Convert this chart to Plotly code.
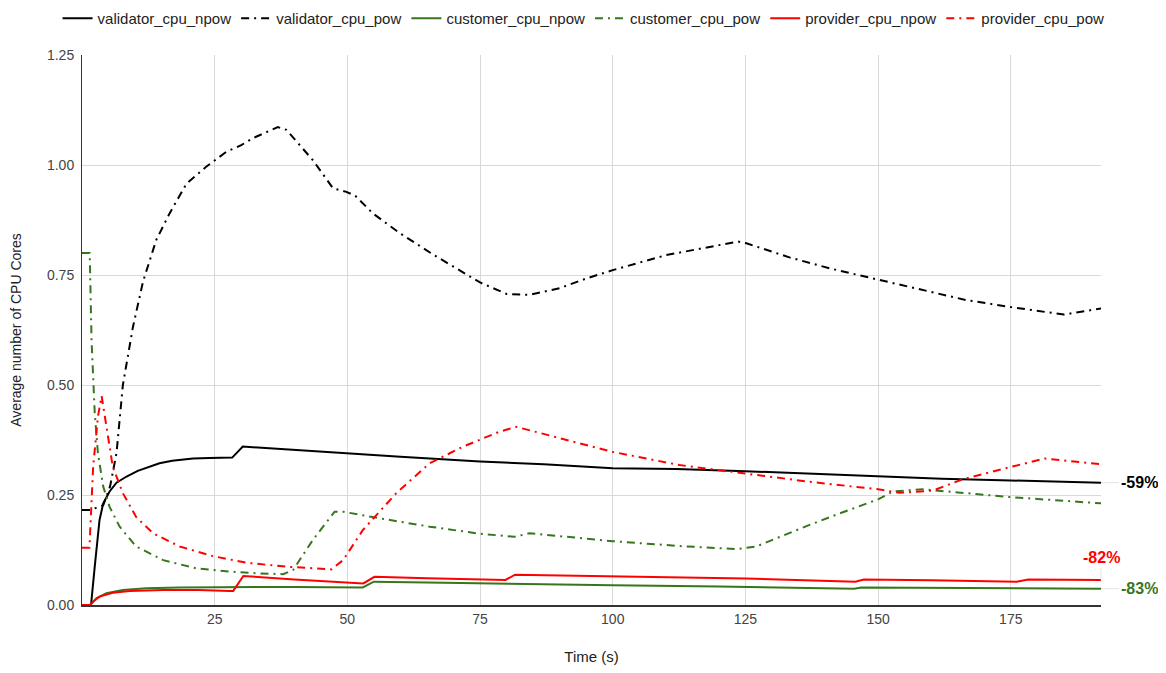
import plotly.graph_objects as go

# ---- data ----
validator_npow_x = [0, 1.7, 2.4, 3.3, 4.0, 5.2, 6.5, 8.4, 10.5, 12.5, 14.6, 17, 20.9, 24, 28.3, 30.3,
                    40, 50, 60, 75, 87, 100, 112, 125, 137, 150, 162, 175, 192]
validator_npow_y = [0, 0, 0.087, 0.193, 0.231, 0.258, 0.278, 0.292, 0.305, 0.314, 0.322, 0.328, 0.333,
                    0.334, 0.335, 0.36, 0.352, 0.345, 0.337, 0.326, 0.320, 0.311, 0.309, 0.304, 0.298,
                    0.292, 0.287, 0.283, 0.278]

validator_pow_x = [0, 1.6, 4.0, 5.3, 6.5, 7.7, 9.6, 11.5, 14, 16.5, 19.7, 23.4, 27.2, 30, 32.2, 36.9,
                   38.5, 43.5, 47.3, 49.8, 51.5, 54.8, 59.9, 66.1, 75, 80, 84.3, 90, 95, 100, 110,
                   118.9, 123.6, 125.2, 133.3, 140.9, 150, 158.4, 166.6, 175.1, 183.6, 185, 192]
validator_pow_y = [0.216, 0.216, 0.227, 0.27, 0.345, 0.50, 0.632, 0.735, 0.83, 0.89, 0.958, 0.996,
                   1.03, 1.045, 1.061, 1.086, 1.08, 1.011, 0.947, 0.939, 0.93, 0.89, 0.845, 0.797,
                   0.733, 0.707, 0.705, 0.72, 0.742, 0.761, 0.795, 0.816, 0.826, 0.822, 0.79, 0.765,
                   0.739, 0.716, 0.693, 0.677, 0.661, 0.66, 0.674]

customer_npow_x = [0, 1.6, 2.7, 4.6, 7.7, 12.1, 18.4, 28, 40, 52.9, 55.0, 65, 78.7, 100, 120, 137,
                   145.5, 146.8, 160, 175, 192]
customer_npow_y = [0, 0, 0.015, 0.027, 0.034, 0.038, 0.040, 0.041, 0.041, 0.040, 0.053, 0.051, 0.048,
                   0.045, 0.042, 0.039, 0.037, 0.040, 0.039, 0.038, 0.037]

customer_pow_x = [0, 1.45, 1.8, 2.1, 2.4, 3.0, 4.0, 5.2, 7.1, 10.2, 15.3, 21.6, 27.8, 33, 37.9, 39.8,
                  43.5, 47.6, 49.2, 56.1, 65.5, 75, 81.5, 84.3, 100, 112.6, 123.3, 127, 131.4, 137.1,
                  142.7, 150, 152.8, 158.4, 175.1, 192]
customer_pow_y = [0.8, 0.8, 0.602, 0.496, 0.436, 0.345, 0.269, 0.223, 0.178, 0.133, 0.102, 0.083,
                  0.076, 0.072, 0.07, 0.08, 0.148, 0.212, 0.212, 0.197, 0.178, 0.162, 0.155, 0.163,
                  0.145, 0.134, 0.127, 0.133, 0.155, 0.182, 0.208, 0.24, 0.258, 0.263, 0.245, 0.231]

provider_npow_x = [0, 1.5, 2.1, 3.3, 5.8, 9, 15.3, 22, 27.8, 28.5, 30.4, 40, 53, 55.1, 65, 79.8, 81.6,
                   100, 125, 145.7, 147.3, 160, 176.1, 178.3, 192]
provider_npow_y = [0, 0, 0.008, 0.019, 0.028, 0.032, 0.034, 0.034, 0.032, 0.032, 0.066, 0.058, 0.049,
                   0.064, 0.061, 0.057, 0.069, 0.065, 0.060, 0.053, 0.058, 0.056, 0.053, 0.058, 0.057]

provider_pow_x = [0, 1.4, 2.1, 3.0, 3.7, 4.6, 5.8, 7.7, 10.2, 13.4, 18.4, 24.7, 31, 38.5, 47, 49.2,
                  52.9, 59.2, 65.5, 71.8, 78.7, 81.8, 90, 100, 112.6, 125, 137.1, 150, 154, 160.3,
                  166, 175.1, 181.4, 192]
provider_pow_y = [0.13, 0.13, 0.314, 0.428, 0.475, 0.405, 0.314, 0.254, 0.2, 0.163, 0.133, 0.111,
                  0.096, 0.087, 0.081, 0.102, 0.17, 0.254, 0.322, 0.36, 0.394, 0.405, 0.38, 0.348,
                  0.318, 0.299, 0.28, 0.263, 0.255, 0.26, 0.286, 0.314, 0.333, 0.32]

x_ticks = [25, 50, 75, 100, 125, 150, 175]
y_ticks = [0, 0.25, 0.5, 0.75, 1.0, 1.25]
reduction_labels = ["-59%", "-83%", "-82%"]

BLACK = "#000000"
GREEN = "#38761d"
RED = "#ff0000"
DASHDOT = "8px,5px,2px,5px"

series = [
    ("validator_cpu_npow", validator_npow_x, validator_npow_y, BLACK, "solid"),
    ("validator_cpu_pow", validator_pow_x, validator_pow_y, BLACK, DASHDOT),
    ("customer_cpu_npow", customer_npow_x, customer_npow_y, GREEN, "solid"),
    ("customer_cpu_pow", customer_pow_x, customer_pow_y, GREEN, DASHDOT),
    ("provider_cpu_npow", provider_npow_x, provider_npow_y, RED, "solid"),
    ("provider_cpu_pow", provider_pow_x, provider_pow_y, RED, DASHDOT),
]

fig = go.Figure()
for name, xs, ys, col, dash in series:
    fig.add_trace(go.Scatter(x=xs, y=ys, name=name, mode="lines",
                             line=dict(color=col, width=2, dash=dash)))

FONT = "Liberation Sans, Arial, sans-serif"

# page body has an 8px margin, so the figure is sized to fit inside the window
W, H = 1150, 657
fig.update_layout(
    width=W, height=H,
    paper_bgcolor="white", plot_bgcolor="white",
    margin=dict(l=74, r=57, t=47, b=60, autoexpand=False),
    font=dict(family=FONT, size=14, color="#222222"),
    showlegend=True,
    legend=dict(orientation="h", x=-0.024, xanchor="left", xref="paper",
                y=1.0964, yref="paper", yanchor="top",
                font=dict(size=15, color="#222222"), itemwidth=30,
                bgcolor="rgba(0,0,0,0)"),
    xaxis=dict(range=[0, 192], tickvals=x_ticks, showgrid=True, gridcolor="#d9d9d9",
               gridwidth=1, zeroline=False, showline=True, linecolor="#333333", linewidth=2,
               ticks="", tickfont=dict(size=14, color="#444444"),
               title=dict(text="Time (s)", font=dict(size=15, color="#222222"), standoff=31)),
    yaxis=dict(range=[0, 1.25], tickvals=y_ticks, tickformat=".2f", showgrid=True,
               gridcolor="#d9d9d9", gridwidth=1, zeroline=False, showline=True,
               linecolor="#333333", linewidth=1, ticks="", ticklabelstandoff=4,
               tickfont=dict(size=14, color="#444444"),
               title=dict(text="Average number of CPU Cores", font=dict(size=14, color="#222222"),
                          standoff=22)),
)

# end-of-line reduction labels
fig.add_annotation(x=validator_npow_x[-1], y=validator_npow_y[-1], text="<b>%s</b>" % reduction_labels[0],
                   showarrow=True, arrowhead=0, arrowcolor="#e3e3e3", arrowwidth=1,
                   ax=38, ay=0, font=dict(size=16, color=BLACK))
fig.add_annotation(x=customer_npow_x[-1], y=customer_npow_y[-1], text="<b>%s</b>" % reduction_labels[1],
                   showarrow=True, arrowhead=0, arrowcolor="#e3e3e3", arrowwidth=1,
                   ax=38, ay=0, font=dict(size=16, color=GREEN))
fig.add_annotation(x=provider_npow_x[-1], y=provider_npow_y[-1], text="<b>%s</b>" % reduction_labels[2],
                   showarrow=True, arrowhead=0, arrowcolor="#e3e3e3", arrowwidth=1,
                   ax=0, ay=-22, font=dict(size=16, color=RED))

fig.write_html("out.html")
